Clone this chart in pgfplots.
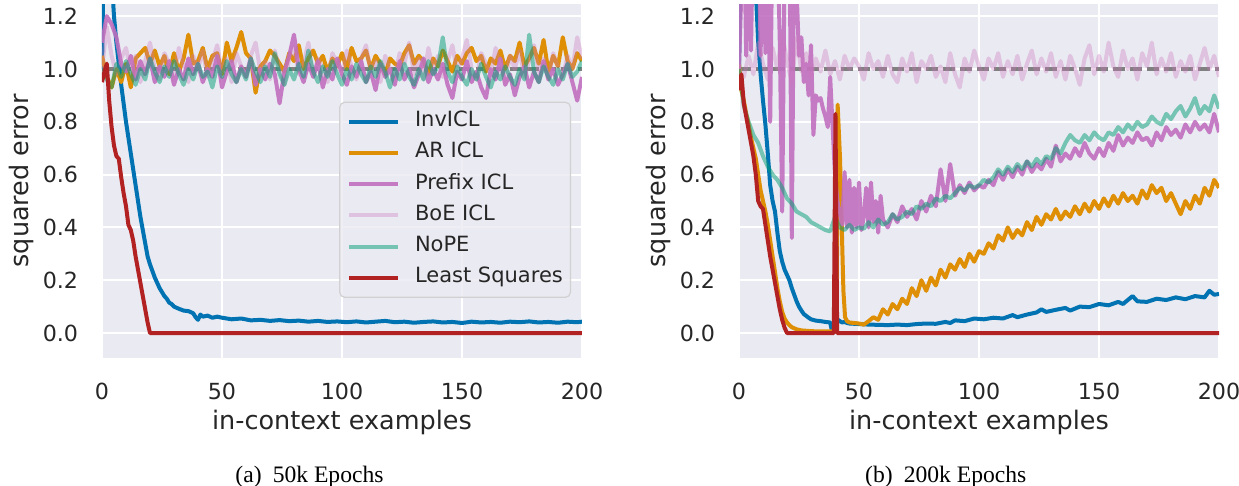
\documentclass[border=0pt]{standalone}
\usepackage{pgfplots}
\pgfplotsset{compat=1.18}
\usepackage{pgfplotstable}
\usepackage{fontspec}
\setmainfont{DejaVu Sans}
\newfontfamily\capfont{Liberation Serif}
\definecolor{bgc}{HTML}{EAEAF2}
\definecolor{cinv}{HTML}{0173B2}
\definecolor{car}{HTML}{DE8F05}
\definecolor{cpre}{RGB}{192,112,190}
\definecolor{cboe}{HTML}{CC78BC}
\definecolor{cnope}{HTML}{029E73}
\definecolor{cls}{HTML}{B22222}
\definecolor{txt}{HTML}{262626}
\definecolor{cdash}{HTML}{808080}

\pgfplotstableread{
x ar pre boe nope
0 1.05 1.10 1.00 1.00
2 0.97 1.20 1.16 0.96
4 0.93 1.17 1.05 0.93
6 1.00 1.12 0.98 1.02
8 0.95 1.02 1.04 0.97
10 1.02 0.99 1.08 1.03
12 0.93 1.05 0.99 0.98
14 1.04 0.96 1.05 0.94
16 1.06 1.03 0.95 1.00
18 1.08 0.98 1.03 0.96
20 1.02 1.04 1.10 1.04
22 1.07 0.95 1.00 0.99
24 1.01 1.01 0.96 0.95
26 1.05 0.97 1.06 1.01
28 0.98 1.03 1.02 0.97
30 1.06 0.94 0.97 1.03
32 0.99 1.00 1.08 0.98
34 1.04 0.96 1.01 0.94
36 1.13 1.04 0.95 1.00
38 1.02 0.98 1.05 0.96
40 1.03 1.02 1.00 1.02
42 1.08 0.95 1.07 0.97
44 1.00 1.00 0.97 0.99
46 1.05 0.97 1.03 0.93
48 1.06 1.05 1.09 1.01
50 0.98 0.93 0.99 0.97
52 1.10 0.99 1.04 1.03
54 1.03 1.03 0.95 0.98
56 1.08 0.95 1.06 0.95
58 1.14 1.01 1.01 1.00
60 1.06 0.97 0.97 0.96
62 1.04 1.04 1.05 1.04
64 0.91 0.94 1.10 0.99
66 1.01 1.00 0.99 0.95
68 1.03 0.96 1.03 1.01
70 1.07 1.02 0.96 0.97
72 1.05 0.98 1.07 1.06
74 1.02 0.87 1.00 0.98
76 0.99 0.99 0.94 0.94
78 1.06 1.05 1.04 1.00
80 1.03 1.13 1.08 0.96
82 1.09 1.00 0.98 1.02
84 1.00 0.95 1.02 0.97
86 1.04 1.02 1.10 1.07
88 1.07 0.97 0.97 0.99
90 1.02 1.03 1.04 0.95
92 1.05 0.93 1.00 1.01
94 0.99 1.00 0.95 0.97
96 1.04 0.96 1.06 1.03
98 1.01 1.04 1.02 0.98
100 1.06 0.98 0.98 0.94
102 1.00 0.94 1.07 1.00
104 1.08 1.01 1.01 0.96
106 1.03 0.97 0.96 1.02
108 1.04 1.03 1.04 0.98
110 1.07 0.95 1.09 0.95
112 1.00 0.99 0.99 1.01
114 1.05 0.92 1.03 0.97
116 1.02 1.02 0.95 1.03
118 0.98 0.97 1.05 0.99
120 1.04 1.00 1.00 0.93
122 1.02 0.94 0.97 1.00
124 1.01 1.03 1.06 0.96
126 1.06 0.96 1.02 1.02
128 1.09 1.00 1.10 0.97
130 1.02 0.93 0.98 0.94
132 1.05 0.98 1.04 1.00
134 1.03 1.04 0.96 0.96
136 0.98 0.95 1.08 1.03
138 1.04 1.00 1.00 0.98
140 1.01 0.96 1.05 1.01
142 1.07 1.02 0.97 1.12
144 1.03 0.94 1.03 0.99
146 0.99 0.89 1.09 0.95
148 1.05 0.99 0.99 1.01
150 1.02 0.96 1.04 0.97
152 1.06 1.03 1.11 0.94
154 1.08 0.95 1.00 1.00
156 1.03 0.99 0.96 0.96
158 1.05 0.93 1.06 1.02
160 0.99 0.89 1.02 0.97
162 1.04 1.00 0.98 0.93
164 1.02 0.96 1.08 0.99
166 1.07 1.04 1.01 0.96
168 1.00 0.94 0.95 1.01
170 1.05 0.98 1.05 0.97
172 1.03 0.90 1.00 0.94
174 1.10 0.97 1.07 1.00
176 1.01 1.01 0.97 0.96
178 1.04 0.93 1.03 1.13
180 1.08 0.99 1.09 0.99
182 1.02 0.95 0.99 0.95
184 1.11 1.03 1.04 1.01
186 0.99 0.96 0.96 0.97
188 1.05 1.00 1.06 0.94
190 1.01 0.94 1.01 1.00
192 1.12 0.98 0.97 0.96
194 1.03 1.02 1.05 1.02
196 1.00 0.95 1.00 0.97
198 1.06 0.88 1.12 0.99
200 1.03 0.97 1.04 1.03
}\leftdata

\pgfplotstableread{
x boe nope
0 1.00 1.00
2 0.97 0.86
4 1.05 0.80
6 0.98 0.75
8 1.10 0.72
10 1.02 0.67
12 0.96 0.63
14 1.08 0.60
16 1.00 0.58
18 1.13 0.55
20 1.03 0.51
22 0.95 0.49
24 1.12 0.46
26 0.99 0.45
28 1.06 0.44
30 0.97 0.42
32 1.04 0.41
34 0.99 0.40
36 1.07 0.39
38 0.98 0.385
40 1.03 0.44
42 0.96 0.40
44 1.05 0.39
46 1.00 0.41
48 1.04 0.39
50 1.01 0.40
52 0.96 0.395
54 1.06 0.42
56 1.00 0.40
58 1.03 0.43
60 0.97 0.41
62 1.05 0.42
64 0.98 0.45
66 0.95 0.43
68 1.04 0.44
70 0.99 0.46
72 1.06 0.45
74 0.95 0.48
76 1.03 0.47
78 1.00 0.49
80 1.05 0.48
82 0.97 0.51
84 1.01 0.50
86 0.95 0.52
88 1.06 0.51
90 0.98 0.53
92 0.93 0.55
94 1.04 0.54
96 0.99 0.56
98 1.07 0.55
100 1.01 0.56
102 0.96 0.58
104 1.04 0.57
106 1.00 0.59
108 1.06 0.62
110 0.97 0.60
112 1.03 0.63
114 0.98 0.61
116 1.05 0.64
118 0.96 0.62
120 1.02 0.65
122 1.07 0.63
124 0.98 0.66
126 1.04 0.64
128 0.99 0.67
130 1.06 0.66
132 0.97 0.70
134 1.03 0.68
136 0.96 0.72
138 1.05 0.75
140 1.00 0.73
142 0.94 0.72
144 1.04 0.75
146 1.09 0.73
148 0.98 0.76
150 1.05 0.74
152 0.99 0.73
154 1.10 0.76
156 1.01 0.75
158 0.97 0.78
160 1.07 0.76
162 1.00 0.79
164 1.04 0.77
166 0.96 0.80
168 1.06 0.78
170 1.01 0.79
172 1.10 0.82
174 0.98 0.80
176 1.04 0.79
178 0.99 0.83
180 1.06 0.81
182 0.97 0.84
184 1.03 0.86
186 0.99 0.82
188 1.05 0.85
190 0.96 0.89
192 1.02 0.83
194 1.08 0.86
196 1.00 0.84
198 1.05 0.90
200 0.97 0.85
}\rightdata

\pgfplotsset{
 panel/.style={
  scale only axis, width=240pt, height=176.65pt,
  xmin=0, xmax=200, ymin=-0.093, ymax=1.245,
  axis background/.style={fill=bgc},
  axis line style={draw=none},
  major tick length=0pt,
  grid=major, major grid style={white, line width=1pt},
  xtick={0,50,100,150,200},
  ytick={0,0.2,0.4,0.6,0.8,1.0,1.2},
  yticklabels={0.0,0.2,0.4,0.6,0.8,1.0,1.2},
  /pgf/number format/assume math mode=true,
  tick label style={font=\fontsize{11.1}{13}\selectfont, text=txt, inner sep=0pt},
  yticklabel style={anchor=east, xshift=-11.75pt},
  xticklabel style={anchor=north, yshift=-12.7pt},
  label style={font=\fontsize{12.75}{15}\selectfont, text=txt, inner sep=0pt},
  xlabel={in-context examples},
  ylabel={squared error},
  xlabel style={at={(axis description cs:0.5,-0.2049)}, anchor=base},
  ylabel style={at={(axis description cs:-0.1521,0.5)}, anchor=base},
  every axis plot/.append style={line width=2pt, line join=round, mark=none},
 },
 sInv/.style={color=cinv},
 sAR/.style={color=car},
 sPre/.style={color=cpre, opacity=0.9},
 sBoE/.style={color=cboe, opacity=0.35},
 sNoPE/.style={color=cnope, opacity=0.5},
 sLS/.style={color=cls},
 sDash/.style={color=cdash, line width=1.6pt, dash pattern=on 6pt off 2.5pt},
}

\begin{document}
\begin{tikzpicture}
\useasboundingbox (0,0) rectangle (619.5pt,243pt);

% ---------------- (a) 50k epochs ----------------
\begin{axis}[panel, at={(51pt,64.2pt)}, anchor=south west,
  legend cell align=left,
  legend image code/.code={\draw[#1] (0pt,0pt) -- (24.15pt,0pt);},
  legend style={at={(axis description cs:0.494,0.7243)}, anchor=north west,
    draw=black!18, line width=0.6pt, fill=bgc, fill opacity=0.8, text opacity=1,
    rounded corners=2.5pt, inner xsep=3.8pt, inner ysep=4.5pt,
    row sep=5.1pt, column sep=7.7pt,
    font=\fontsize{10.5}{12}\selectfont, text=txt,
    nodes={inner sep=0pt, text height=7.7pt, text depth=2.8pt}},
]
\addplot[sDash, forget plot] coordinates {(0,1) (200,1)};
\addplot[sInv] coordinates {
(0,1.0) (1,1.6) (2,2.2) (3,1.8) (4,1.35) (5,1.2) (6,1.1) (7,1.02) (8,0.94) (9,0.87)
(10,0.8) (11,0.74) (12,0.68) (13,0.62) (14,0.56) (15,0.5) (16,0.44) (17,0.39) (18,0.34) (19,0.29)
(20,0.26) (21,0.235) (22,0.21) (23,0.19) (24,0.17) (25,0.155) (26,0.14) (27,0.13) (28,0.115) (29,0.11)
(30,0.1) (32,0.092) (34,0.085) (36,0.083) (38,0.075) (39,0.06) (40,0.05) (41,0.07) (42,0.062) (44,0.066)
(46,0.058) (48,0.062) (50,0.058) (54,0.052) (58,0.055) (62,0.048) (66,0.05) (70,0.046) (74,0.049) (78,0.045)
(82,0.047) (86,0.043) (90,0.046) (94,0.042) (98,0.044) (102,0.041) (106,0.044) (110,0.04) (114,0.043) (118,0.046)
(122,0.041) (126,0.043) (130,0.039) (134,0.042) (138,0.044) (142,0.04) (146,0.042) (150,0.038) (154,0.043) (158,0.04)
(162,0.042) (166,0.039) (170,0.043) (174,0.041) (178,0.044) (182,0.04) (186,0.042) (190,0.039) (194,0.043) (198,0.041) (200,0.043)};
\addlegendentry{InvICL}
\addplot[sAR] table[x=x,y=ar] {\leftdata};
\addlegendentry{AR ICL}
\addplot[sPre] table[x=x,y=pre] {\leftdata};
\addlegendentry{Prefix ICL}
\addplot[sBoE] table[x=x,y=boe] {\leftdata};
\addlegendentry{BoE ICL}
\addplot[sNoPE] table[x=x,y=nope] {\leftdata};
\addlegendentry{NoPE}
\addplot[sLS] coordinates {
(0,0.95) (1,0.99) (2,1.02) (3,0.88) (4,0.78) (5,0.71) (6,0.67) (7,0.66) (8,0.59) (9,0.53)
(10,0.48) (11,0.41) (12,0.39) (13,0.35) (14,0.29) (15,0.24) (16,0.19) (17,0.14) (18,0.09) (19,0.04)
(20,0) (200,0)};
\addlegendentry{Least Squares}
\end{axis}

% ---------------- (b) 200k epochs ----------------
\begin{axis}[panel, at={(369.5pt,64.2pt)}, anchor=south west]
\addplot[sDash] coordinates {(0,1) (200,1)};
\addplot[sInv] coordinates {
(0,1.0) (1,1.6) (2,2.2) (3,2.5) (4,2.4) (5,2.0) (6,1.6) (7,1.3) (8,1.1) (9,0.98)
(10,0.88) (11,0.79) (12,0.68) (13,0.56) (14,0.5) (15,0.46) (16,0.38) (17,0.31) (18,0.27) (19,0.24)
(20,0.22) (21,0.2) (22,0.17) (23,0.145) (24,0.12) (25,0.1) (26,0.085) (27,0.072) (28,0.065) (29,0.058)
(30,0.052) (32,0.047) (34,0.045) (36,0.042) (38,0.04) (38.8,0.005) (39.6,0.03) (40.5,0.055) (42,0.045) (43,0.04)
(44,0.042) (45,0.038) (46,0.036) (48,0.035) (50,0.034) (54,0.032) (58,0.031) (62,0.03) (66,0.032) (70,0.03)
(74,0.034) (78,0.036) (82,0.035) (86,0.042) (88,0.038) (90,0.048) (94,0.045) (98,0.055) (102,0.052) (106,0.058)
(110,0.055) (114,0.068) (116,0.06) (120,0.07) (124,0.078) (126,0.09) (128,0.08) (132,0.088) (136,0.095) (138,0.085)
(142,0.1) (146,0.098) (150,0.11) (154,0.105) (158,0.118) (160,0.11) (164,0.14) (166,0.12) (170,0.118) (174,0.13)
(178,0.125) (182,0.135) (186,0.128) (190,0.14) (194,0.135) (196,0.16) (198,0.145) (200,0.148)};
\addplot[sAR] coordinates {
(0,1.02) (1,0.92) (2,0.88) (3,0.83) (4,0.79) (5,0.74) (6,0.7) (7,0.66) (8,0.6) (9,0.54)
(10,0.5) (11,0.46) (12,0.41) (13,0.35) (14,0.29) (15,0.23) (16,0.17) (17,0.12) (18,0.08) (19,0.055)
(20,0.04) (21,0.03) (22,0.022) (24,0.014) (26,0.01) (30,0.007) (35,0.006) (40.7,0.006) (41.1,0.865) (42.1,0.66)
(43.5,0.16) (44.2,0.06) (45,0.045) (46,0.04) (48,0.038) (50,0.036) (52,0.032) (54,0.045) (56,0.06) (58,0.05)
(60,0.09) (62,0.07) (64,0.11) (66,0.09) (68,0.13) (70,0.11) (72,0.17) (74,0.14) (76,0.2) (78,0.16)
(80,0.21) (82,0.18) (84,0.24) (86,0.21) (88,0.26) (90,0.24) (92,0.28) (94,0.25) (96,0.3) (98,0.27)
(100,0.31) (102,0.3) (104,0.34) (106,0.32) (108,0.37) (110,0.35) (112,0.4) (114,0.36) (116,0.39) (118,0.37)
(120,0.42) (122,0.39) (124,0.44) (126,0.41) (128,0.45) (130,0.43) (132,0.47) (134,0.43) (136,0.46) (138,0.44)
(140,0.48) (142,0.45) (144,0.49) (146,0.46) (148,0.5) (150,0.47) (152,0.51) (154,0.48) (156,0.52) (158,0.49)
(160,0.53) (162,0.5) (164,0.52) (166,0.49) (168,0.54) (170,0.51) (172,0.56) (174,0.53) (176,0.55) (178,0.5)
(180,0.53) (182,0.49) (184,0.45) (186,0.5) (188,0.47) (190,0.52) (192,0.49) (194,0.55) (196,0.52) (198,0.58) (200,0.55)};
\addplot[sPre] coordinates {
(0,1.0) (1,1.3) (2,1.6) (3,1.05) (4,1.5) (5,1.07) (6,1.6) (7,1.3) (8,1.7) (9,1.05)
(10,1.6) (11,1.06) (12,1.5) (13,0.8) (14,1.6) (15,1.3) (16,1.5) (17,1.1) (18,0.46) (19,1.4)
(20,1.5) (21,1.6) (22,0.36) (23,1.5) (24,1.3) (25,1.05) (26,1.12) (27,0.95) (28,1.02) (29,0.9)
(30,1.09) (31,0.75) (32,0.9) (33,0.88) (34,0.89) (35,0.85) (36,0.82) (37,0.78) (38,0.97) (39,0.78)
(40,0.6) (41,0.5) (42,0.45) (43,0.41) (44,0.61) (45,0.4) (46,0.58) (47,0.38) (48,0.55) (49,0.4)
(50,0.57) (51,0.39) (52,0.44) (53,0.55) (54,0.4) (55,0.57) (56,0.42) (57,0.5) (58,0.38) (59,0.52)
(60,0.43) (62,0.4) (64,0.45) (66,0.42) (68,0.48) (70,0.44) (72,0.47) (74,0.43) (76,0.5) (78,0.46)
(80,0.52) (82,0.48) (84,0.62) (86,0.5) (88,0.64) (90,0.52) (92,0.56) (94,0.53) (96,0.57) (98,0.54)
(100,0.56) (102,0.55) (104,0.58) (106,0.56) (108,0.61) (110,0.58) (112,0.62) (114,0.59) (116,0.63) (118,0.6)
(120,0.65) (122,0.61) (124,0.64) (126,0.62) (128,0.66) (130,0.63) (132,0.71) (134,0.65) (136,0.68) (138,0.66)
(140,0.7) (142,0.67) (144,0.72) (146,0.68) (148,0.66) (150,0.7) (152,0.67) (154,0.72) (156,0.69) (158,0.75)
(160,0.71) (162,0.74) (164,0.72) (166,0.76) (168,0.73) (170,0.74) (172,0.71) (174,0.76) (176,0.73) (178,0.78)
(180,0.75) (182,0.77) (184,0.74) (186,0.79) (188,0.76) (190,0.8) (192,0.77) (194,0.79) (196,0.76) (198,0.83) (200,0.76)};
\addplot[sBoE] table[x=x,y=boe] {\rightdata};
\addplot[sNoPE] table[x=x,y=nope] {\rightdata};
\addplot[sLS] coordinates {
(0,0.92) (1,0.98) (2,0.87) (3,0.82) (4,0.77) (5,0.72) (6,0.67) (7,0.6) (8,0.5) (9,0.48)
(10,0.47) (11,0.41) (12,0.35) (13,0.29) (14,0.24) (15,0.19) (16,0.14) (17,0.09) (18,0.05) (19,0.02)
(20,0) (39.5,0) (40.2,0.83) (40.9,0) (200,0)};
\end{axis}

\node[anchor=base, inner sep=0pt, font=\capfont\fontsize{11.8}{14}\selectfont] at (154.75pt,1.65pt) {(a)\hspace{0.47em}50k Epochs};
\node[anchor=base, inner sep=0pt, font=\capfont\fontsize{11.8}{14}\selectfont] at (472.9pt,1.65pt) {(b)\hspace{0.47em}200k Epochs};
\end{tikzpicture}
\end{document}
